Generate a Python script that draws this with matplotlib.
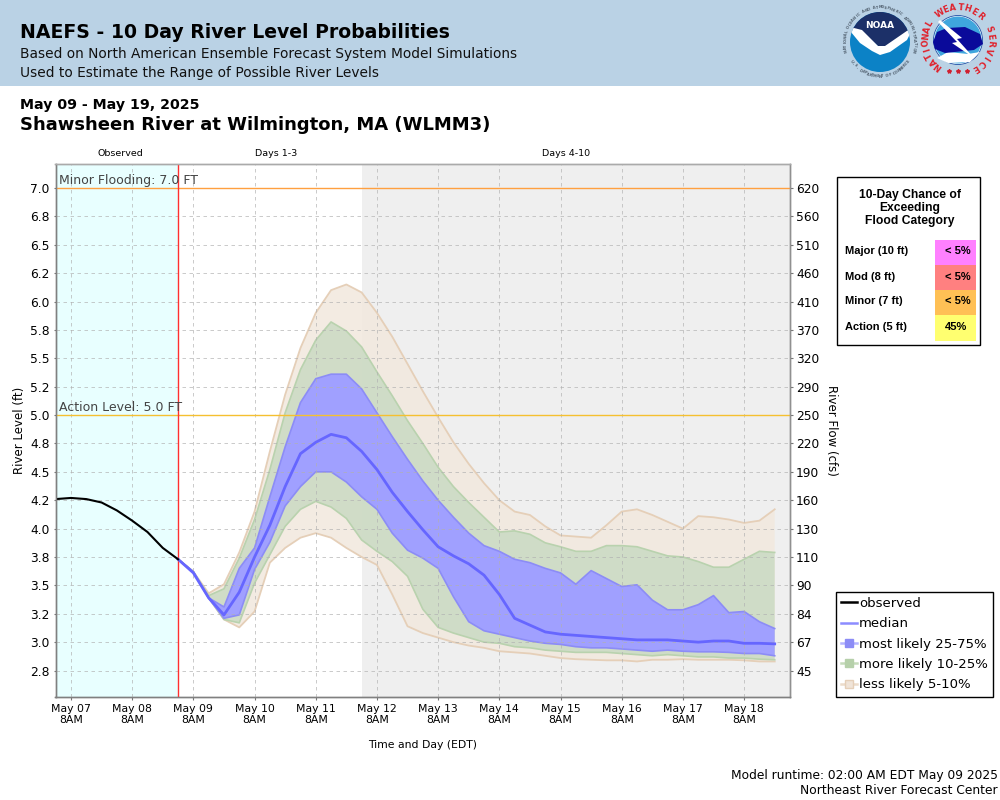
import numpy as np
import matplotlib
matplotlib.use('Agg')
import matplotlib.pyplot as plt
from matplotlib.lines import Line2D
from matplotlib.patches import Circle, Polygon, Rectangle

# days since May 07 8AM
t_obs = [-0.25, 0.0, 0.25, 0.5, 0.75, 1.0, 1.25, 1.5, 1.75]
observed = [4.26, 4.27, 4.26, 4.23, 4.16, 4.07, 3.97, 3.83, 3.73]

t_fcst = [1.75, 2.0, 2.25, 2.5, 2.75, 3.0, 3.25, 3.5, 3.75, 4.0,
          4.25, 4.5, 4.75, 5.0, 5.25, 5.5, 5.75, 6.0, 6.25, 6.5,
          6.75, 7.0, 7.25, 7.5, 7.75, 8.0, 8.25, 8.5, 8.75, 9.0,
          9.25, 9.5, 9.75, 10.0, 10.25, 10.5, 10.75, 11.0, 11.25, 11.5]

median = [3.73, 3.61, 3.39, 3.24, 3.44, 3.75, 4.03, 4.37, 4.66, 4.76,
          4.83, 4.80, 4.68, 4.52, 4.32, 4.15, 3.99, 3.84, 3.76, 3.69,
          3.59, 3.42, 3.21, 3.15, 3.09, 3.07, 3.06, 3.05, 3.04, 3.03,
          3.02, 3.02, 3.02, 3.01, 3.00, 3.01, 3.01, 2.99, 2.99, 2.985]
p25 = [3.73, 3.62, 3.39, 3.31, 3.65, 3.83, 4.28, 4.72, 5.11, 5.32,
       5.36, 5.36, 5.23, 5.02, 4.81, 4.61, 4.42, 4.25, 4.10, 3.96,
       3.85, 3.80, 3.73, 3.70, 3.65, 3.61, 3.51, 3.63, 3.56, 3.49,
       3.505, 3.37, 3.285, 3.285, 3.33, 3.41, 3.26, 3.27, 3.18, 3.12]
p75 = [3.73, 3.62, 3.39, 3.21, 3.24, 3.64, 3.88, 4.20, 4.37, 4.50,
       4.50, 4.41, 4.28, 4.17, 3.96, 3.81, 3.74, 3.65, 3.40, 3.18,
       3.10, 3.07, 3.04, 3.01, 2.99, 2.98, 2.96, 2.95, 2.95, 2.94,
       2.93, 2.92, 2.93, 2.92, 2.915, 2.915, 2.91, 2.90, 2.90, 2.88]
p10 = [3.73, 3.62, 3.41, 3.47, 3.74, 4.08, 4.52, 5.02, 5.40, 5.66,
       5.82, 5.74, 5.60, 5.38, 5.17, 4.95, 4.75, 4.54, 4.37, 4.23,
       4.10, 3.97, 3.98, 3.95, 3.875, 3.84, 3.80, 3.80, 3.85, 3.85,
       3.84, 3.80, 3.76, 3.75, 3.71, 3.66, 3.66, 3.73, 3.80, 3.79]
p90 = [3.73, 3.62, 3.39, 3.20, 3.17, 3.52, 3.77, 4.02, 4.17, 4.24,
       4.19, 4.09, 3.90, 3.80, 3.71, 3.58, 3.29, 3.13, 3.08, 3.04,
       3.00, 2.99, 2.96, 2.95, 2.93, 2.92, 2.91, 2.91, 2.91, 2.90,
       2.89, 2.88, 2.89, 2.88, 2.87, 2.87, 2.86, 2.86, 2.85, 2.845]
p05 = [3.73, 3.62, 3.43, 3.51, 3.79, 4.15, 4.68, 5.18, 5.59, 5.90,
       6.10, 6.15, 6.08, 5.90, 5.69, 5.45, 5.21, 4.98, 4.76, 4.57,
       4.40, 4.25, 4.15, 4.12, 4.02, 3.94, 3.93, 3.92, 4.03, 4.15,
       4.17, 4.12, 4.06, 4.00, 4.11, 4.10, 4.08, 4.05, 4.07, 4.17]
p95 = [3.73, 3.62, 3.39, 3.20, 3.13, 3.27, 3.70, 3.83, 3.92, 3.96,
       3.92, 3.83, 3.75, 3.68, 3.42, 3.14, 3.08, 3.04, 3.00, 2.97,
       2.95, 2.92, 2.91, 2.90, 2.88, 2.86, 2.85, 2.845, 2.84, 2.84,
       2.83, 2.845, 2.845, 2.85, 2.845, 2.845, 2.845, 2.84, 2.83, 2.83]

level_ticks = [7.0, 6.75, 6.5, 6.25, 6.0, 5.75, 5.5, 5.25, 5.0, 4.75, 4.5, 4.25, 4.0, 3.75, 3.5, 3.25, 3.0, 2.75]
level_labels = ['7.0', '6.8', '6.5', '6.2', '6.0', '5.8', '5.5', '5.2', '5.0', '4.8', '4.5', '4.2', '4.0', '3.8', '3.5', '3.2', '3.0', '2.8']
flow_labels = ['620', '560', '510', '460', '410', '370', '320', '290', '250', '220', '190', '160', '130', '110', '90', '84', '67', '45']
day_ticks = [0, 1, 2, 3, 4, 5, 6, 7, 8, 9, 10, 11]
day_labels = ['May 07', 'May 08', 'May 09', 'May 10', 'May 11', 'May 12', 'May 13', 'May 14', 'May 15', 'May 16', 'May 17', 'May 18']

flood_names = ['Major (10 ft)', 'Mod (8 ft)', 'Minor (7 ft)', 'Action (5 ft)']
flood_chance = ['< 5%', '< 5%', '< 5%', '45%']
flood_colors = ['#ff80ff', '#ff8080', '#ffc055', '#ffff70']

NOW = 1.75
DAY4 = 4.75
XMIN, XMAX = -0.253, 11.75
YMIN, YMAX = 2.517, 7.211

C_BLUE, E_BLUE = '#a0a0ff', '#8c8cf6'
C_GREEN, E_GREEN = '#cedcc6', '#b9d2ae'
C_TAN, E_TAN = '#f2e9df', '#e5cfb8'
GRID = '#b0b0b0'

fig = plt.figure(figsize=(10, 8), dpi=100)
ax = fig.add_axes([55.5/1000, 103/800, 734.5/1000, 533/800])

ax.axvspan(XMIN, NOW, color='#e8ffff', lw=0, zorder=0)
ax.axvspan(DAY4, XMAX, color='#efefef', lw=0, zorder=0)

# bandes, de la plus large a la plus etroite
ax.fill_between(t_fcst, p95, p05, facecolor=C_TAN, edgecolor='none', alpha=0.9, zorder=1)
ax.plot(t_fcst, p05, color=E_TAN, lw=1.3, zorder=1.1)
ax.plot(t_fcst, p95, color=E_TAN, lw=1.3, zorder=1.1)
ax.fill_between(t_fcst, p90, p10, facecolor=C_GREEN, edgecolor='none', alpha=0.95, zorder=1.2)
ax.plot(t_fcst, p10, color=E_GREEN, lw=1.2, zorder=1.3)
ax.plot(t_fcst, p90, color=E_GREEN, lw=1.2, zorder=1.3)
ax.fill_between(t_fcst, p75, p25, facecolor=C_BLUE, edgecolor='none', zorder=1.4)
ax.plot(t_fcst, p25, color=E_BLUE, lw=1.2, zorder=1.5)
ax.plot(t_fcst, p75, color=E_BLUE, lw=1.2, zorder=1.5)

ax.set_axisbelow(False)
ax.grid(True, color=GRID, ls=(0, (3.5, 3.5)), lw=0.72, alpha=0.65, zorder=2)

ax.axhline(7.0, color='#ffa040', lw=1, zorder=3)
ax.axhline(5.0, color='#f5c030', lw=1, zorder=3)
ax.axvline(NOW, color='#ff3030', lw=1.0, zorder=3)

ax.plot(t_fcst, median, color='#6666ff', lw=2.0, zorder=4)
ax.plot(t_obs, observed, color='black', lw=1.5, zorder=4)

ax.text(-0.2, 7.0+0.005, 'Minor Flooding: 7.0 FT', va='bottom', ha='left', fontsize=9, color='#444444', zorder=5)
ax.text(-0.2, 5.0+0.005, 'Action Level: 5.0 FT', va='bottom', ha='left', fontsize=9, color='#444444', zorder=5)

ax.set_xlim(XMIN, XMAX)
ax.set_ylim(YMIN, YMAX)
ax.set_xticks(day_ticks)
ax.set_xticklabels([d + '\n8AM' for d in day_labels], fontsize=7.8, linespacing=1.15)
ax.set_yticks(level_ticks)
ax.set_yticklabels(level_labels, fontsize=8.8)
ax.tick_params(axis='both', length=1.8, width=0.8, color='#777777', pad=2.5)
ax.tick_params(axis='x', pad=3)
ax.set_xlabel('Time and Day (EDT)', fontsize=7.8)
ax.xaxis.set_label_coords((423-55.5)/734.5, -(740-697)/533, transform=ax.transAxes)
ax.set_ylabel('River Level (ft)', fontsize=8.5)
ax.yaxis.set_label_coords((26-55.5)/734.5, 0.5, transform=ax.transAxes)

axr = ax.twinx()
axr.set_ylim(YMIN, YMAX)
axr.set_yticks(level_ticks)
axr.set_yticklabels(flow_labels, fontsize=8.8)
axr.tick_params(axis='y', length=1.8, width=0.8, color='#777777', pad=2.5)
axr.set_ylabel('River Flow (cfs)', fontsize=8.5, rotation=270)
axr.yaxis.set_label_coords((838-55.5)/734.5, 0.5, transform=ax.transAxes)

for a in (ax, axr):
    for s in a.spines.values():
        s.set_color('#aaaaaa')
        s.set_linewidth(1)
    a.spines['left'].set_color('#808080')
    a.spines['bottom'].set_color('#808080')
    a.spines['right'].set_color('#909090')

# calque en pixels pour tout ce qui est hors du graphique
ov = fig.add_axes([0, 0, 1, 1], zorder=-1)
ov.set_xlim(0, 1000)
ov.set_ylim(800, 0)
ov.axis('off')
top = fig.add_axes([0, 0, 1, 1], zorder=10)
top.set_xlim(0, 1000)
top.set_ylim(800, 0)
top.axis('off')
top.patch.set_alpha(0)

ov.add_patch(Rectangle((0, 0), 1000, 86, facecolor='#bad2e5', edgecolor='none'))
top.text(20, 33, 'NAEFS - 10 Day River Level Probabilities', fontsize=13.6, fontweight='bold', va='center')
top.text(20, 54, 'Based on North American Ensemble Forecast System Model Simulations', fontsize=9.87, va='center', color='#111111')
top.text(20, 73, 'Used to Estimate the Range of Possible River Levels', fontsize=9.87, va='center', color='#111111')
top.text(20, 105, 'May 09 - May 19, 2025', fontsize=10.15, fontweight='bold', va='center')
top.text(20, 125.5, 'Shawsheen River at Wilmington, MA (WLMM3)', fontsize=12.95, fontweight='bold', va='center')
top.text(120, 154, 'Observed', fontsize=6.8, ha='center', va='center')
top.text(276, 154, 'Days 1-3', fontsize=6.8, ha='center', va='center')
top.text(566, 154, 'Days 4-10', fontsize=6.8, ha='center', va='center')

top.text(998, 775.5, 'Model runtime: 02:00 AM EDT May 09 2025', fontsize=8.83, ha='right', va='center')
top.text(998, 791, 'Northeast River Forecast Center', fontsize=8.83, ha='right', va='center')

def ring_text(txt, cx, cy, r, a0, a1, color, size, flip=False):
    for ch, ang in zip(txt, np.linspace(a0, a1, len(txt))):
        x = cx + r*np.cos(np.radians(ang))
        y = cy - r*np.sin(np.radians(ang))
        rot = ang + 90 if flip else ang - 90
        top.text(x, y, ch, fontsize=size, color=color, rotation=rot, ha='center', va='center',
                 rotation_mode='anchor', fontweight='bold')

# logo NOAA
disc = Circle((880, 42), 30, facecolor='#0c82c6', edgecolor='none')
top.add_patch(disc)
dark = Polygon([[846, 27], [862, 32], [878, 46], [885, 48], [914, 27], [914, 8], [846, 8]],
               facecolor='#1c3068', edgecolor='none')
top.add_patch(dark)
dark.set_clip_path(disc)
wing = Polygon([[846, 26], [862, 30], [878, 46], [885, 46], [914, 26], [907, 40], [890, 52], [880, 55], [872, 51], [860, 43]],
               facecolor='white', edgecolor='none')
top.add_patch(wing)
wing.set_clip_path(disc)
top.text(880, 25.5, 'NOAA', fontsize=6.5, color='white', ha='center', va='center', fontweight='bold')
ring_text('NATIONAL OCEANIC AND ATMOSPHERIC ADMINISTRATION', 880, 42, 34.5, 195, -15, '#51606f', 2.6)
ring_text('U.S. DEPARTMENT OF COMMERCE', 880, 42, 34.5, 215, 325, '#51606f', 2.6, flip=True)

# logo NWS
top.add_patch(Circle((958, 40), 24.5, facecolor='white', edgecolor='#1d4fa5', lw=0.6))
top.add_patch(Circle((958, 40), 23.5, facecolor='#3fa6dd', edgecolor='none'))
top.add_patch(Polygon([[937, 58], [948, 52], [968, 54], [980, 52], [970, 62], [948, 63]],
                      facecolor='white', edgecolor='none'))
top.add_patch(Polygon([[933, 42], [937, 32], [947, 28], [965, 27], [980, 34], [983, 44], [974, 50], [945, 53], [935, 49]],
                      facecolor='#0a0a9a', edgecolor='none'))
top.add_patch(Polygon([[940, 20], [962, 38], [957, 39], [974, 58], [952, 43], [957, 42], [938, 22]],
                      facecolor='white', edgecolor='none'))
ring_text('NATIONAL', 958, 40, 32.5, 233, 150, '#e0202a', 6)
ring_text('WEATHER', 958, 40, 32.5, 124, 47, '#e0202a', 6)
ring_text('SERVICE', 958, 40, 32.5, 20, -58, '#e0202a', 6)
top.plot([949, 958, 967], [71, 71, 71], ls='none', marker='*', ms=3, color='#d02030')

# tableau des crues
top.add_patch(Rectangle((836.5, 176.5), 143.5, 168.5, facecolor='white', edgecolor='black', lw=1))
for i, s in enumerate(['10-Day Chance of', 'Exceeding', 'Flood Category']):
    top.text(910, 195 + 13*i, s, family='Liberation Sans', fontweight='bold', fontsize=8.7, ha='center', va='center')
for i, (n, c, col) in enumerate(zip(flood_names, flood_chance, flood_colors)):
    y = 240 + 25*i
    top.add_patch(Rectangle((935, y), 41, 25 if i < 3 else 26, facecolor=col, edgecolor='none'))
    top.text(845, y + 11.5, n, family='Liberation Sans', fontweight='bold', fontsize=8, ha='left', va='center')
    top.text(945, y + 11.5, c, family='Liberation Sans', fontweight='bold', fontsize=8, ha='left', va='center')

handles = [
    Line2D([], [], color='black', lw=1.8),
    Line2D([], [], color='#8c8cff', lw=1.8),
    Line2D([], [], color='#b4b4ff', lw=1.8, marker='s', ms=6, mfc='#8c8cf6', mec='#8c8cf6'),
    Line2D([], [], color='#c5dabb', lw=1.8, marker='s', ms=6, mfc='#b6d0aa', mec='#b6d0aa'),
    Line2D([], [], color='#ecdccb', lw=1.8, marker='s', ms=6, mfc='#f0e4d8', mec='#e5cfb8'),
]
leg = top.legend(handles, ['observed', 'median', 'most likely 25-75%', 'more likely 10-25%', 'less likely 5-10%'],
                 loc='upper left', bbox_to_anchor=(835.5/1000, 1 - 591.5/800), bbox_transform=fig.transFigure,
                 fontsize=9.5, frameon=True, fancybox=False, edgecolor='black', framealpha=1, borderaxespad=0,
                 borderpad=0.4, handlelength=1.2, handletextpad=0.2, labelspacing=0.56)
leg.get_frame().set_linewidth(1)

fig.savefig('out.png', dpi=100)
